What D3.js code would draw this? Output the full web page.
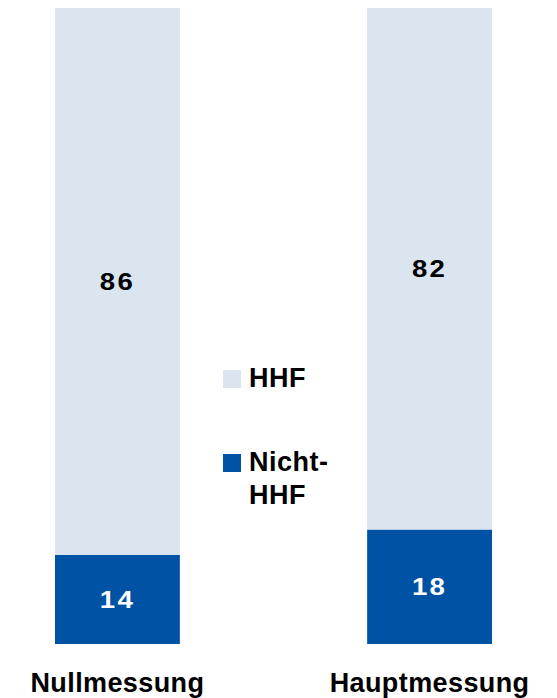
<!DOCTYPE html>
<html>
<head>
<meta charset="utf-8">
<script src="https://cdn.jsdelivr.net/npm/d3@7"></script>
<style>
  body { margin: 0; background: #fff; }
  svg text { font-family: "Liberation Sans", Arial, sans-serif; font-weight: bold; }
</style>
</head>
<body>
<div id="chart"></div>
<script>
// data
var categories = ["Nullmessung", "Hauptmessung"];
var seriesNames = ["Nicht-HHF", "HHF"];
var nichtHHF = [14, 18];
var hhf = [86, 82];

var width = 557;
var height = 698;
var colors = { "HHF": "#dae5f0", "Nicht-HHF": "#0053a4" };

var rows = categories.map(function (c, i) {
    return { cat: c, "Nicht-HHF": nichtHHF[i], "HHF": hhf[i] };
});

var stack = d3.stack().keys(seriesNames);
var layers = stack(rows);

var x = d3.scaleBand()
    .domain(categories)
    .range([55, 492])
    .paddingInner(0.6)
    .paddingOuter(0);

var y = d3.scaleLinear()
    .domain([0, 100])
    .range([644, 8]);

var svg = d3.select("#chart")
    .append("svg")
    .attr("width", width)
    .attr("height", height);

var groups = svg.selectAll("g.layer")
    .data(layers)
    .enter().append("g")
    .attr("class", "layer")
    .attr("fill", function (d) { return colors[d.key]; });

groups.selectAll("rect")
    .data(function (d) { return d; })
    .enter().append("rect")
    .attr("x", function (d) { return x(d.data.cat); })
    .attr("y", function (d) { return y(d[1]); })
    .attr("width", x.bandwidth())
    .attr("height", function (d) { return y(d[0]) - y(d[1]); });

// value labels, centered in each segment
groups.each(function (layer) {
    var g = d3.select(this);
    g.selectAll("text")
        .data(layer)
        .enter().append("text")
        .attr("transform", function (d) {
            var cx = x(d.data.cat) + x.bandwidth() / 2;
            var cy = (y(d[0]) + y(d[1])) / 2;
            return "translate(" + cx + "," + cy + ") scale(1.15,1)";
        })
        .attr("text-anchor", "middle")
        .attr("dominant-baseline", "central")
        .style("font-size", "24px")
        .style("letter-spacing", "2px")
        .attr("fill", layer.key === "HHF" ? "#000" : "#fff")
        .text(function (d) { return d[1] - d[0]; });
});

// category labels
svg.selectAll("text.cat")
    .data(categories)
    .enter().append("text")
    .attr("class", "cat")
    .attr("x", function (d) { return x(d) + x.bandwidth() / 2; })
    .attr("y", 692)
    .attr("text-anchor", "middle")
    .style("font-size", "27px")
    .style("letter-spacing", "0.4px")
    .attr("fill", "#000")
    .text(function (d) { return d; });

// legend
var legendItems = [
    { key: "HHF", lines: ["HHF"], top: 370 },
    { key: "Nicht-HHF", lines: ["Nicht-", "HHF"], top: 454 }
];

var legend = svg.append("g").attr("class", "legend");

var item = legend.selectAll("g")
    .data(legendItems)
    .enter().append("g")
    .attr("transform", function (d) { return "translate(223," + d.top + ")"; });

item.append("rect")
    .attr("width", 18)
    .attr("height", 18)
    .attr("fill", function (d) { return colors[d.key]; });

item.each(function (d) {
    var t = d3.select(this).append("text")
        .attr("x", 26)
        .attr("y", 17)
        .style("font-size", "27px")
        .style("letter-spacing", "0.5px")
        .attr("fill", "#000");
    d.lines.forEach(function (line, i) {
        t.append("tspan")
            .attr("x", 26)
            .attr("dy", i === 0 ? 0 : 33)
            .text(line);
    });
});
</script>
</body>
</html>
